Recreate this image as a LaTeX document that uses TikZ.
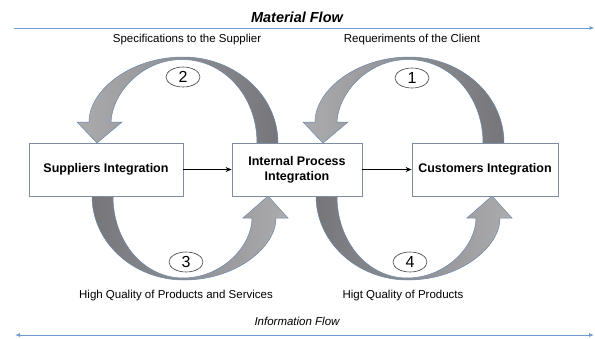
\documentclass[tikz,border=0pt]{standalone}
\usepackage{fontspec}
\setmainfont{Liberation Sans}
\usetikzlibrary{arrows.meta,shapes.geometric}

\definecolor{flowblue}{RGB}{110,155,205}
\definecolor{boxedge}{RGB}{125,140,160}
\definecolor{arrowedge}{RGB}{105,135,170}
\definecolor{dkgray}{RGB}{118,118,122}
\definecolor{ltgray}{RGB}{172,172,175}

\begin{document}
\begin{tikzpicture}[x=1pt,y=-1pt,
  box/.style={draw=boxedge, line width=0.8pt, fill=white, minimum height=53pt,
    font=\fontsize{12.5}{15}\selectfont\bfseries, align=center, inner sep=0pt},
  lbl/.style={font=\fontsize{11.5}{13}\selectfont},
  num/.style={ellipse, draw=black!75, line width=0.6pt, fill=white,
    minimum width=34pt, minimum height=20pt, inner sep=0pt,
    font=\fontsize{16}{16}\selectfont},
  curvearrow/.style={draw=arrowedge, line width=0.5pt},
  link/.style={-{Stealth[length=6pt,width=5pt]}, line width=1.4pt},
  flow/.style={draw=flowblue, line width=0.9pt}
]
\useasboundingbox (0,0) rectangle (595,338);

% header / footer
\node[font=\fontsize{14.5}{16}\selectfont\bfseries\itshape] (mf) at (297,17) {Material Flow};
\coordinate (mfL) at (14,28);
\coordinate (mfR) at (594.5,28);
\draw[flow, -{Latex[length=5pt,width=4pt]}] (mfL) -- (mfR);

\node[lbl] (spec) at (187,40) {Specifications to the Supplier};
\node[lbl] (req) at (412,40) {Requeriments of the Client};
\node[lbl] (hq) at (176,296) {High Quality of Products and Services};
\node[lbl] (hq2) at (403,296) {Higt Quality of Products};
\node[lbl, font=\fontsize{11.5}{13}\selectfont\itshape] (info) at (297,321) {Information Flow};
\coordinate (ifL) at (15,335);
\coordinate (ifR) at (594,335);
\draw[flow, {Latex[length=5pt,width=4pt]}-{Latex[length=5pt,width=4pt]}] (ifL) -- (ifR);

% top curved arrows (2 and 1)
\foreach \dx in {0,226}{
\begin{scope}[shift={(\dx,0)}]
\shadedraw[curvearrow, left color=ltgray, right color=dkgray]
 (278,143) .. controls (278,95) and (235,57) .. (183,57)
 .. controls (131,57) and (89,90) .. (89,122)
 -- (77,122) -- (97,143) -- (122,122) -- (111,122)
 .. controls (112,94) and (141,59.5) .. (182,59.5)
 .. controls (224,59.5) and (257,96) .. (257,143) -- cycle;
\end{scope}}

% bottom curved arrows (3 and 4)
\foreach \dx in {0,224}{
\begin{scope}[shift={(\dx,0)}]
\shadedraw[curvearrow, left color=dkgray, right color=ltgray]
 (92,196) .. controls (92,242) and (133,280) .. (184,280)
 .. controls (235,280) and (276,248) .. (276,218)
 -- (288,218) -- (268,196) -- (243,218) -- (252,218)
 .. controls (252,246) and (222,278) .. (183,278)
 .. controls (144,278) and (113,242) .. (113,196) -- cycle;
\end{scope}}

% boxes
\node[box, minimum width=154pt] (sup) at (106,169.5) {Suppliers Integration};
\node[box, minimum width=130pt] (int) at (297,169.5) {Internal Process\\Integration};
\node[box, minimum width=146pt] (cus) at (485,169.5) {Customers Integration};

\draw[link] (sup.east) -- (int.west);
\draw[link] (int.east) -- (cus.west);

% numbers
\node[num] (n2) at (183,77) {2};
\node[num] (n1) at (412,78) {1};
\node[num] (n3) at (186,262) {3};
\node[num] (n4) at (410,262) {4};
\end{tikzpicture}
\end{document}
